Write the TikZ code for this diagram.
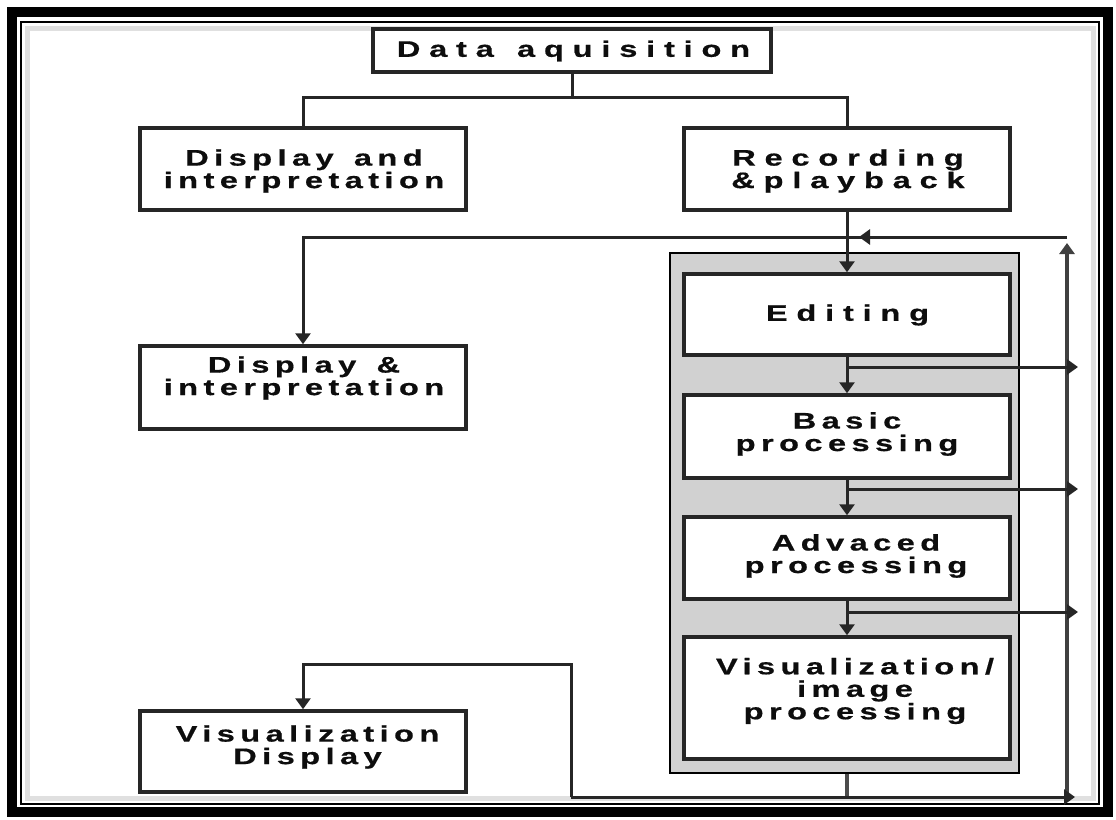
\documentclass[tikz,border=0pt]{standalone}
\usepackage{fontspec}
\newfontfamily\lblN[LetterSpace=24,WordSpace=1.4,FakeStretch=1.45,BoldFeatures={FakeBold=0.6}]{Liberation Sans}
\newfontfamily\lblW[LetterSpace=39,WordSpace=1.3,FakeStretch=1.45,BoldFeatures={FakeBold=0.6}]{Liberation Sans}
\usetikzlibrary{arrows.meta}
\begin{document}
\begin{tikzpicture}[x=1pt,y=-1pt,
  box/.style={draw=black!85, line width=3.5pt, fill=white, minimum width=326pt, inner sep=0pt, rectangle},
  lbl/.style={font=\lblN\bfseries\fontsize{22.5}{22.5}\selectfont, align=center, text=black!95, inner sep=0pt},
  lblw/.style={lbl, font=\lblW\bfseries\fontsize{22.5}{22.5}\selectfont},
  wire/.style={line width=3pt, draw=black!85},
  arr/.style={wire, -{Triangle[width=15pt,length=11pt]}},
]
\useasboundingbox[fill=white] (0,0) rectangle (1116,819);
% frame
\draw[line width=5pt, black!12] (27,28) rectangle (1093,798);
\draw[line width=10pt] (12,12) rectangle (1108,812);
\draw[line width=1.8pt] (21,22) rectangle (1099,804);

% boxes
\node[box, minimum width=398pt, minimum height=43pt] (data) at (572,50.5) {};
\node[box, minimum height=82pt] (disp1) at (303,169) {};
\node[box, minimum height=82pt] (rec) at (847,169) {};
\node[box, minimum height=83pt] (disp2) at (303,387.5) {};
\node[box, minimum height=81pt] (vd) at (303,751.5) {};
\node[draw=black, line width=2.5pt, fill=black!18, minimum width=349pt, minimum height=520pt, inner sep=0pt] (cont) at (844.5,513) {};
\node[box, minimum height=81pt] (edit) at (847,314.5) {};
\node[box, minimum height=83pt] (basic) at (847,436.5) {};
\node[box, minimum height=82pt] (adv) at (847,558) {};
\node[box, minimum height=122pt] (vis) at (847,698) {};

% labels
\node[lblw] (datat) at (573.5,51) {Data aquisition};
\node[lbl] (disp1t) at (304,171) {Display and\\interpretation};
\node[lblw] (rect) at (848,171) {Recording\\\&playback};
\node[lbl] (disp2t) at (304,378) {Display \&\\interpretation};
\node[lbl] (vdt) at (307.5,747) {Visualization\\Display};
\node[lblw] (editt) at (847.5,315) {Editing};
\node[lbl] (basict) at (847,434) {Basic\\processing};
\node[lbl] (advt) at (856,556) {Advaced\\processing};
\node[lbl] (vist) at (855,691) {Visualization/\\image\\processing};

% coordinates
\coordinate (bus) at (572,97);
\coordinate (jc) at (847,237);
\coordinate (jt) at (1067,237);
\coordinate (jtu) at (1067,243);
\coordinate (jb) at (1067,797);
\coordinate (jcl) at (859,237);
\coordinate (e1) at (847,367);
\coordinate (e2) at (847,489);
\coordinate (e3) at (847,612);
\coordinate (r1) at (1078,367);
\coordinate (r2) at (1078,489);
\coordinate (r3) at (1078,612);
\coordinate (cb) at (847,797);
\coordinate (bl) at (571,797);
\coordinate (br) at (1075,797);
\coordinate (bm) at (571,664);

% top tree
\draw[wire] (data.south) -- (bus);
\draw[wire] (disp1.north) -- (disp1.north |- bus) -- (rec.north |- bus) -- (rec.north);

% recording to editing
\draw[arr] (rec.south) -- (edit.north);

% feedback loop top
\draw[wire] (jc) -- (jt);
\draw[arr] (jt) -- (jcl);
\draw[arr] (jc) -- (jc -| disp2.north) -- (disp2.north);
\draw[arr, line width=4pt, draw=black!75] (jb) -- (jtu);

% inner chain
\draw[arr] (edit.south) -- (basic.north);
\draw[arr] (basic.south) -- (adv.north);
\draw[arr] (adv.south) -- (vis.north);
\draw[arr] (e1) -- (r1);
\draw[arr] (e2) -- (r2);
\draw[arr] (e3) -- (r3);

% bottom
\draw[wire, line width=4pt, draw=black!70] (cb |- cont.south) -- (cb);
\draw[arr] (bl) -- (br);
\draw[arr] (bl) -- (bm) -| (vd.north);
\end{tikzpicture}
\end{document}
